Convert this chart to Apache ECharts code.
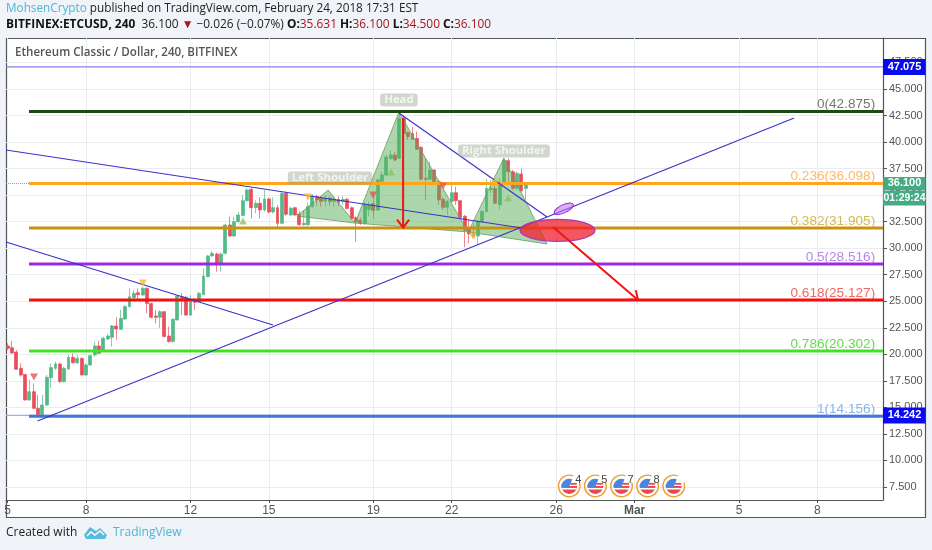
<!DOCTYPE html>
<html><head><meta charset="utf-8">
<style>html,body{margin:0;padding:0;background:#f0f3f7}#c{width:932px;height:550px}</style>
<script src="https://cdn.jsdelivr.net/npm/echarts@6/dist/echarts.min.js"></script>
</head><body><div id="c"></div>
<script>
const opens=[20.79,20.63,20.22,18.68,18.11,15.7,16.48,14.91,14.19,15.23,17.8,18.68,19.09,17.43,18.62,19.72,19.2,19.62,18.05,19,19.94,20.79,20.35,21.45,21.6,22.67,22.36,23.33,24.49,25.34,25.81,25.59,26.22,24.8,23.61,23.49,24.02,21.73,21.2,23.24,25.43,25.37,23.7,25.06,24.96,25.62,27.32,29.27,29.45,28.58,29.52,32.19,31.15,32.5,33.07,34.48,35.55,33.82,34.23,33.6,34.63,33.41,33.82,32.35,35.17,33.13,33.82,33.22,32.22,32.22,33.92,34.86,34.7,34.45,34.7,34.4,34.6,34.4,34.6,33.82,32.88,32.65,32.35,33.65,34.2,33.6,36.3,36.9,38.46,38.78,38.47,42.24,40.9,40.8,40.35,39.5,36.6,36.5,37.37,36.27,34.6,33.85,34.4,35.23,34.48,33,31.87,31.47,31.15,32.5,33.45,35.5,35.64,34.07,36.17,38.25,37.2,35.64,36.99,35.63];
const closes=[20.57,20.13,18.59,18.05,15.7,16.48,14.91,14.19,15.23,17.83,18.75,19.09,17.43,18.68,19.72,19.2,19.62,18.05,19,19.87,20.79,20.1,21.51,21.73,22.67,22.39,23.39,24.49,25.43,25.75,25.62,26.22,24.8,23.49,23.49,24.02,21.67,21.2,23.3,25.5,25.06,23.7,24.96,24.9,25.75,27.38,29.27,29.52,28.58,29.45,32.19,31.15,32.5,33.13,34.48,35.48,33.82,34.23,33.6,34.63,33.41,33.82,32.35,35.17,33.2,33.76,33.13,32.22,32.35,33.92,34.92,34.55,34.4,34.7,34.4,34.55,34.3,34.6,33.75,32.8,32.5,32.35,34.15,34.07,33.55,36.43,36.9,38.6,38.78,38.3,42.24,40.8,40.5,40.25,39.3,36.5,36.5,37.37,36.27,34.55,33.85,34.4,35.23,34.48,32.9,31.7,31.34,31.1,32.5,33.45,35.64,35.64,34.23,36.1,38.25,37.2,35.64,37.06,35.42,36.1];
const lows=[20.41,20.03,18.53,17.9,15.64,15.64,14.85,14.13,14.13,15.13,16.8,18.53,17.33,17.33,18.53,19.15,19.09,18,17.96,18.9,19.78,20.03,20.25,21.35,20.72,21.35,22.29,23.24,24.43,25.18,25.18,25.5,23.86,23.39,22.92,22.45,21.6,21.1,21.1,23.17,23.7,23.61,23.61,24.18,24.87,25.59,27.26,29.2,27.79,27.79,29.4,31.03,31.03,32.4,33,34.4,32.81,33.3,32.8,33.44,33.28,33.28,32.03,32.25,33.04,33.04,33.04,32.1,32.1,32.1,33.8,34,33.9,33.9,34,33.9,33.9,34.1,33.65,32.7,30.6,32.2,32.2,33,32.8,33.5,36.2,36.8,38.3,38.2,38.4,40.5,40.2,40.2,39.25,36.4,34.55,36.4,36.2,34.07,33.6,33.1,34.3,34.07,32.8,30.1,30.46,30.93,30.3,32.4,33.35,35.2,34.17,33.6,36.1,35.95,35.5,35.5,35.3,34.5];
const highs=[21.04,21.26,20.41,19.15,18.11,17.58,17.27,16.17,16.17,18.05,19.15,19.31,19.21,18.84,19.94,20.1,19.94,19.69,19.15,20,21.2,21.26,21.67,21.92,22.76,23.49,24.18,24.65,26.22,26.06,26.22,26.37,26.3,24.87,24.18,24.18,24.08,22.6,23.39,25.59,25.75,25.5,25.59,25.27,25.9,28.1,29.36,29.7,29.58,29.58,32.3,32.97,32.97,33.4,35,35.64,35.64,34.5,34.8,35.5,34.8,34.8,34.07,35.3,35.33,33.91,33.91,33.5,33.6,34.3,35.1,35.05,34.9,35,34.9,34.9,34.9,34.9,34.75,33.9,33,32.9,34.3,34.4,35.2,36.6,37.2,38.8,39.2,39.1,42.875,42.5,41,41.45,41,39.6,38.5,38.15,37.4,36.43,34.8,34.55,35.95,35.8,34.55,33.13,32.66,32.2,32.66,33.6,36.5,36.4,36.4,36.6,38.46,38.46,37.37,37.2,37.5,36.1];
const stepsPerDay=6;
const fibValues=[42.875,36.098,31.905,28.516,25.127,20.302,14.156];
const fibTexts=['0(42.875)','0.236(36.098)','0.382(31.905)','0.5(28.516)','0.618(25.127)','0.786(20.302)','1(14.156)'];
const fibColors=['#1d4a12','#ffa41c','#c8920f','#9c27e6','#f50f0f','#3fe321','#3d78d8'];
const fibTextColors=['#4d5a3c','#ffa640','#c9a832','#a868e0','#e8433c','#3ed02a','#6ba3e0'];
const xTicks=[0,3,7,10,14,17,21,24,28,31];
const xTickLabels=['5','8','12','15','19','22','26','Mar','5','8'];
const yTicks=[7.5,10,12.5,15,17.5,20,22.5,25,27.5,30,32.5,35,37.5,40,42.5,45,47.5];
const trendLines=[[[-0.061,39.25],[19.69,31.9]],[[-0.061,30.58],[10.16,22.76]],[[1.145,13.72],[30.11,42.27]],[[14.98,42.74],[20.65,32.94]]];
const patternPolys=[[[11.08,33.03],[12.27,35.48],[13.3,32.37]],[[13.3,32.37],[14.98,42.83],[17.63,31.53]],[[17.63,31.53],[19,38.5],[20.65,30.4]]];
const patternNames=[['Left Shoulder',12.34,36.61],['Head',14.98,43.96],['Right Shoulder',19,39.16]];
const arrows=[[[15.14,42.27],[15.14,31.95]],[[20.88,32],[24.13,25.12]]];
const markerUps=[[9.01,32.56,'#8cc264'],[14.68,37.18,'#8cc264'],[19.16,34.73,'#8cc264']];
const markerDowns=[[1.01,17.86,'#e05a5a'],[5.18,26.72,'#f5b932'],[11.5,34.82,'#f5b932'],[13.99,35.01,'#e05a5a'],[16.67,35.86,'#e05a5a'],[18.66,36.14,'#f5b932'],[17.82,31.15,'#f5b932']];
const flagDays=[21.5,22.5,23.5,24.5,25.5];
const flagCounts=['4','5','7','8',''];
const flagValue=7.6;
const priceTags=[[47.075,'47.075','#0a0af0',8],[14.242,'14.242','#0a0af0',8],[36.1,'36.100','#45ab85',6.5]];
const timerTag='01:29:24';
const xMin=-0.061,xMax=33.51,yMin=6.274,yMax=49.805;
const font='"Liberation Sans",Arial,sans-serif', uiFont='"Open Sans","Noto Sans",sans-serif';

const candles=opens.map((o,i)=>[i/stepsPerDay,o,closes[i],lows[i],highs[i]]);
const lineOf=(data,color,width,z,type)=>({type:'line',data,symbol:'none',silent:true,z,animation:false,lineStyle:{color,width,type:type||'solid'}});
const series=[];
series.push({type:'candlestick',data:candles,barWidth:3.4,z:2,animation:false,silent:true,encode:{x:0,y:[1,2,3,4]},itemStyle:{color:'#53b987',color0:'#eb4d5c',borderColor:'#53b987',borderColor0:'#eb4d5c',borderWidth:0.7}});
series.push({type:'custom',z:3,silent:true,animation:false,data:patternPolys.map((p,i)=>[p[1][0],p[1][1],i]),encode:{x:0,y:1},renderItem(params,api){
  const pts=patternPolys[params.dataIndex].map(p=>api.coord(p));
  return {type:'polygon',shape:{points:pts},style:{fill:'rgba(90,175,90,0.5)',stroke:'rgba(105,155,100,0.8)',lineWidth:1}};
}});
series.push(lineOf([[xMin,47.075],[xMax,47.075]],'#8580ee',1.2,4));
series.push(lineOf([[xMin,14.242],[xMax,14.242]],'#a9a7f0',1.2,4));
series.push(lineOf([[xMin,36.1],[xMax,36.1]],'#53b987',1,4,'dotted'));
fibValues.forEach((v,i)=>series.push(lineOf([[0.82,v],[xMax,v]],fibColors[i],3,5)));
trendLines.forEach(t=>series.push(lineOf(t,'#3c33c8',1.2,6)));
series.push({type:'scatter',z:7,silent:true,animation:false,symbolSize:0,data:fibValues.map((v,i)=>({value:[33.21,v,i],label:{color:fibTextColors[i]}})),label:{show:true,position:'top',distance:0,align:'right',fontFamily:font,fontSize:13.6,formatter:p=>fibTexts[p.value[2]]},encode:{x:0,y:1}});
series.push({type:'custom',z:8,silent:true,animation:false,data:[[21.05,31.68,1.436,1.04]],encode:{x:0,y:1},renderItem(params,api){
  const c=api.coord([api.value(0),api.value(1)]);const s=api.size([api.value(2),api.value(3)]);
  return {type:'ellipse',shape:{cx:c[0],cy:c[1],rx:s[0],ry:s[1]},style:{fill:'rgba(240,30,45,0.75)',stroke:'#a83cb8',lineWidth:1.2}};
}});
series.push({type:'custom',z:8,silent:true,animation:false,data:[[21.29,33.72,0.4,0.38]],encode:{x:0,y:1},renderItem(params,api){
  const c=api.coord([api.value(0),api.value(1)]);const s=api.size([api.value(2),api.value(3)]);
  return {type:'ellipse',x:c[0],y:c[1],rotation:0.45,shape:{cx:0,cy:0,rx:s[0],ry:s[1]},style:{fill:'rgba(190,110,235,0.55)',stroke:'#9c27e6',lineWidth:1}};
}});
series.push({type:'custom',z:9,silent:true,animation:false,data:arrows.map(a=>[a[0][0],a[0][1],a[1][0],a[1][1]]),encode:{x:[0,2],y:[1,3]},renderItem(params,api){
  const a=api.coord([api.value(0),api.value(1)]),b=api.coord([api.value(2),api.value(3)]);
  const ang=Math.atan2(b[1]-a[1],b[0]-a[0]),h=10,w=0.65;
  const p1=[b[0]-h*Math.cos(ang-w),b[1]-h*Math.sin(ang-w)],p2=[b[0]-h*Math.cos(ang+w),b[1]-h*Math.sin(ang+w)];
  const st={stroke:'#f01414',lineWidth:2,fill:null};
  return {type:'group',children:[{type:'line',shape:{x1:a[0],y1:a[1],x2:b[0],y2:b[1]},style:st},{type:'polyline',shape:{points:[p1,b,p2]},style:st}]};
}});
series.push({type:'scatter',z:7,silent:true,animation:false,symbol:'triangle',symbolSize:[8,7],data:markerUps.map(m=>({value:[m[0],m[1]],itemStyle:{color:m[2]}}))});
series.push({type:'scatter',z:7,silent:true,animation:false,symbol:'triangle',symbolRotate:180,symbolSize:[8,7],data:markerDowns.map(m=>({value:[m[0],m[1]],itemStyle:{color:m[2]}}))});
series.push({type:'scatter',z:10,silent:true,animation:false,symbolSize:0,data:patternNames.map(n=>({value:[n[1],n[2]],label:{formatter:n[0]}})),label:{show:true,position:'inside',fontFamily:uiFont,fontWeight:700,fontSize:11.4,color:'#fafcf8',backgroundColor:'rgba(150,165,140,0.55)',borderRadius:3,padding:[1,4]}});
series.push({type:'custom',z:10,silent:true,animation:false,clip:false,data:flagDays.map((d,i)=>[d,flagValue,i]),encode:{x:0,y:1},renderItem(params,api){
  const c=api.coord([api.value(0),api.value(1)]),x=c[0],y=c[1];
  const kids=[
   {type:'circle',shape:{cx:x,cy:y,r:8.5},style:{fill:'#fff'}},
   {type:'arc',shape:{cx:x,cy:y,r:10.8,startAngle:-0.1*Math.PI,endAngle:1.62*Math.PI,clockwise:true},style:{fill:null,stroke:'#f0a030',lineWidth:1.4}},
   {type:'sector',shape:{cx:x,cy:y,r:8,r0:0,startAngle:0,endAngle:Math.PI},style:{fill:'#e8494f'}},
   {type:'rect',shape:{x:x-7.5,y:y+2,width:15,height:1.6},style:{fill:'#fff'}},
   {type:'rect',shape:{x:x+1,y:y-3,width:6.5,height:1.8},style:{fill:'#e8494f'}},
   {type:'sector',shape:{cx:x,cy:y+1,r:8.2,r0:0,startAngle:Math.PI,endAngle:Math.PI*1.62},style:{fill:'#4a86e0'}}
  ];
  const t=flagCounts[params.dataIndex];
  if(t)kids.push({type:'text',style:{text:t,x:x+9,y:y-6,fill:'#444',font:'11px '+font,textAlign:'center',textVerticalAlign:'middle'}});
  return {type:'group',children:kids};
}});
series.push({type:'custom',z:20,silent:true,animation:false,clip:false,data:priceTags.map((t,i)=>[xMax,t[0],i]),encode:{x:0,y:1},renderItem(params,api){
  const t=priceTags[params.dataIndex];const c=api.coord([api.value(0),api.value(1)]);const x=c[0],y=c[1];
  const kids=[{type:'rect',shape:{x:x,y:y-t[3],width:42.5,height:t[3]*2},style:{fill:t[2]}},
   {type:'text',style:{text:t[1],x:x+21.5,y:y,fill:'#fff',font:'bold 11px '+font,textAlign:'center',textVerticalAlign:'middle'}}];
  if(params.dataIndex===2){kids.push({type:'rect',shape:{x:x,y:y+7,width:42.5,height:15},style:{fill:'#45ab85'}},{type:'text',style:{text:timerTag,x:x+21.5,y:y+14.5,fill:'#fff',font:'bold 10.5px '+font,textAlign:'center',textVerticalAlign:'middle'}});}
  return {type:'group',children:kids};
}});

const chart=echarts.init(document.getElementById('c'),null,{renderer:'canvas'});
const grid='#e9edf2';
chart.setOption({
 backgroundColor:'#f0f3f7',animation:false,
 grid:{left:6,top:38,width:877,height:462,containLabel:false},
 xAxis:{type:'value',min:xMin,max:xMax,position:'bottom',
  axisLine:{show:true,lineStyle:{color:'#555',width:1.2}},
  axisTick:{show:true,customValues:xTicks,length:3,lineStyle:{color:'#555'}},
  splitLine:{show:true,lineStyle:{color:grid,width:1}},
  axisLabel:{customValues:xTicks,margin:5,fontFamily:font,fontSize:12,color:'#555',showMinLabel:true,showMaxLabel:true,hideOverlap:false,
    formatter:v=>{const l=xTickLabels[xTicks.indexOf(v)];return l==='Mar'?'{b|Mar}':l;},rich:{b:{fontWeight:'bold',fontFamily:font,fontSize:12,color:'#555'}}}},
 yAxis:{type:'value',min:yMin,max:yMax,position:'right',
  axisLine:{show:true,onZero:false,lineStyle:{color:'#555',width:1.2}},
  axisTick:{show:true,customValues:yTicks,length:4,lineStyle:{color:'#555'}},
  splitLine:{show:true,lineStyle:{color:grid,width:1}},
  axisLabel:{customValues:yTicks,margin:6,fontFamily:font,fontSize:11,color:'#555',hideOverlap:false,formatter:v=>v.toFixed(3)}},
 series,
 graphic:[
  {type:'rect',z:-10,shape:{x:6.5,y:38.5,width:919,height:479},style:{fill:'#fff',stroke:'#555',lineWidth:1.2}},
  {type:'text',z:30,x:6,y:3,style:{text:'{a|MohsenCrypto} published on TradingView.com, February 24, 2018 17:31 EST',font:'11.75px '+uiFont,fill:'#222',rich:{a:{fill:'#4db5d9',font:'11.75px '+uiFont}}}},
  {type:'text',z:30,x:6,y:19,style:{text:'{k|BITFINEX:ETCUSD, 240}  36.100 {r|▼} −0.026 (−0.07%) {k|O:}{r|35.631} {k|H:}{r|36.100} {k|L:}{r|34.500} {k|C:}{r|36.100}',font:'11.9px '+uiFont,fill:'#222',rich:{k:{fontWeight:'bold',fontFamily:uiFont,fontSize:11.9,fill:'#111'},r:{fontFamily:uiFont,fontSize:11.9,fill:'#a8141f'}}}},
  {type:'text',z:30,x:15,y:47,style:{text:'Ethereum Classic / Dollar, 240, BITFINEX',font:'600 11.6px '+uiFont,fill:'#555'}},
  {type:'text',z:30,x:6,y:527,style:{text:'Created with',font:'12px '+uiFont,fill:'#222'}},
  {type:'polygon',z:30,shape:{points:[[84,535],[90,527],[96,531],[100,528],[107,535],[105,539],[86,539]]},style:{fill:'#5ab9de'}},
  {type:'polyline',z:31,shape:{points:[[87,536],[91,532],[95,535],[100,531],[104,535]]},style:{stroke:'#fff',lineWidth:1.4,fill:null}},
  {type:'text',z:30,x:113,y:527,style:{text:'TradingView',font:'12px '+uiFont,fill:'#4db5d9'}}
 ]
});
</script></body></html>
